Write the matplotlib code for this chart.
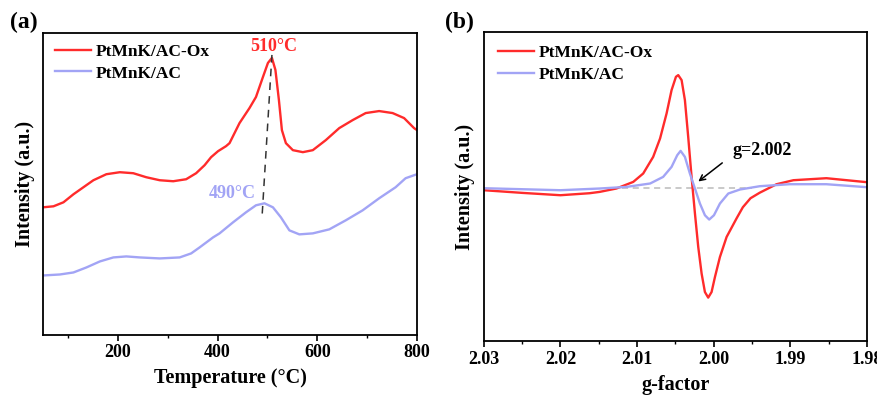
import numpy as np
import matplotlib
matplotlib.use("Agg")
import matplotlib.pyplot as plt

plt.rcParams['font.family'] = ['Liberation Serif', 'DejaVu Serif']
plt.rcParams['font.weight'] = 'bold'
plt.rcParams['axes.labelweight'] = 'bold'

# (a) TPR curves, arbitrary intensity units
temp_ox = [50, 71, 91, 111, 131, 151, 177, 204, 231, 257, 284, 311, 337, 357,
           374, 387, 401, 417, 424, 444, 464, 477, 491, 501, 509, 516, 523, 529,
           537, 551, 571, 591, 617, 644, 671, 697, 724, 751, 774, 794, 800]
int_ox = [127, 128, 132, 140, 147, 154, 160, 162, 161, 157, 154, 153, 155, 161,
          169, 177, 183, 188, 191, 211, 226, 237, 257, 271, 276, 264, 234, 204,
          191, 184, 182, 184, 194, 206, 214, 221, 223, 221, 216, 206, 204]
temp_ac = [50, 84, 111, 137, 164, 191, 217, 244, 284, 324, 347, 364, 391, 404,
           431, 457, 477, 494, 511, 527, 544, 564, 591, 624, 657, 691, 724, 757,
           777, 794, 800]
int_ac = [59, 60, 62, 67, 73, 77, 78, 77, 76, 77, 81, 87, 97, 101,
          112, 122, 129, 131, 127, 117, 104, 100, 101, 105, 114, 124, 136, 147,
          156, 159, 160]

# (b) EPR spectra, baseline at 0
g_ox = [2.03, 2.0249, 2.02, 2.0162, 2.0149, 2.0127, 2.0105, 2.0092, 2.0079,
        2.0070, 2.00615, 2.0055, 2.00493, 2.00463, 2.00419, 2.00376, 2.00333,
        2.00289, 2.00245, 2.00202, 2.00158, 2.00115, 2.00072, 2.00028, 1.99984,
        1.99919, 1.99832, 1.99701, 1.9962, 1.9952, 1.994, 1.9918, 1.9896,
        1.9853, 1.98]
epr_ox = [-2, -4.7, -7, -5, -3.7, -0.3, 6.3, 14.7, 31.3,
          49.7, 74.7, 98, 111.3, 113, 108, 88, 51.3,
          11.3, -25.3, -58.7, -85.3, -103.7, -109.3, -103.7, -88.7,
          -68.7, -48.7, -30, -19, -10, -4.5, 4, 8, 10, 6]
g_ac = [2.03, 2.02, 2.0149, 2.0114, 2.0083, 2.0066, 2.0055, 2.00476, 2.00432,
        2.00376, 2.00311, 2.00245, 2.0018, 2.00115, 2.00059, 1.99997, 1.99919,
        1.9981, 1.99658, 1.994, 1.9901, 1.9853, 1.98]
epr_ac = [0, -2, -0.3, 1.3, 4.7, 11.3, 21.3, 33, 37.3,
          31.3, 14.7, -0.3, -15.3, -27, -31.3, -27, -15.3,
          -5.3, -1.3, 2, 4, 4, 1]

red = '#ff2b2b'
blue = '#a2a4f5'

fig = plt.figure(figsize=(8.78, 3.96), dpi=100)
ax1 = fig.add_axes([0.049, 0.155, 0.426, 0.762])
ax2 = fig.add_axes([0.551, 0.138, 0.4365, 0.781])

for ax in (ax1, ax2):
    for s in ax.spines.values():
        s.set_linewidth(1.3)
    ax.set_yticks([])
    ax.tick_params(axis='x', direction='out', width=1.2, length=4, labelsize=13, pad=3)
    ax.tick_params(axis='x', which='minor', direction='out', width=1.0, length=2.5)

leg_kw = dict(loc='upper left', frameon=False, fontsize=12.5, handlelength=2.1,
              handletextpad=0.25, borderaxespad=0, borderpad=0, labelspacing=0.3)

# panel (a)
ax1.plot(temp_ox, int_ox, color=red, lw=1.7, label='PtMnK/AC-Ox')
ax1.plot(temp_ac, int_ac, color=blue, lw=1.7, label='PtMnK/AC')
ax1.plot([509, 489], [279, 116], color='#333333', lw=1.1, ls=(0, (5, 4)))
ax1.text(512, 287, '510°C', color=red, fontsize=13, ha='center', va='center')
ax1.text(430, 141, '490°C', color=blue, fontsize=13, ha='center', va='center')
ax1.set_xlim(50, 800)
ax1.set_ylim(0, 301)
ax1.set_xticks([200, 400, 600, 800])
ax1.set_xticks([100, 300, 500, 700], minor=True)
ax1.set_xlabel('Temperature (°C)', fontsize=14.5, labelpad=5)
ax1.set_ylabel('Intensity (a.u.)', fontsize=14.5, labelpad=6)
ax1.legend(bbox_to_anchor=(0.032, 0.963), **leg_kw)
fig.text(0.011, 0.943, '(a)', fontsize=17, va='center')

# panel (b)
ax2.plot([2.012, 1.995], [0, 0], color='#bbbbbb', lw=1.1, ls=(0, (4, 3)))
ax2.plot(g_ox, epr_ox, color=red, lw=1.7, label='PtMnK/AC-Ox')
ax2.plot(g_ac, epr_ac, color=blue, lw=1.7, label='PtMnK/AC')
ax2.annotate('', xy=(2.0023, 5), xytext=(1.9986, 27),
             arrowprops=dict(arrowstyle='->', color='black', lw=1.1))
ax2.text(1.9976, 38, 'g=2.002', fontsize=13, ha='left', va='center')
ax2.set_xlim(2.03, 1.98)
ax2.set_ylim(-153, 156)
ax2.set_xticks([2.03, 2.02, 2.01, 2.00, 1.99, 1.98])
ax2.set_xticklabels(['2.03', '2.02', '2.01', '2.00', '1.99', '1.98'])
ax2.set_xticks([2.025, 2.015, 2.005, 1.995, 1.985], minor=True)
ax2.set_xlabel('g-factor', fontsize=14.5, labelpad=5)
ax2.set_ylabel('Intensity (a.u.)', fontsize=14.5, labelpad=6)
ax2.legend(bbox_to_anchor=(0.037, 0.958), **leg_kw)
fig.text(0.507, 0.943, '(b)', fontsize=17, va='center')

fig.savefig('out.png', dpi=100)
